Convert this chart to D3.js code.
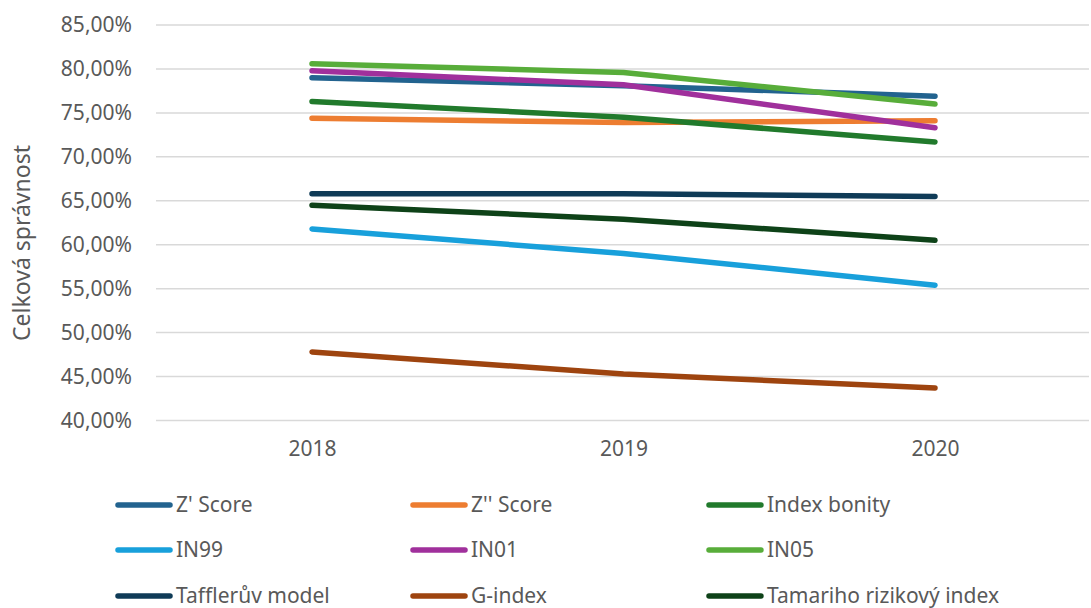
<!DOCTYPE html>
<html><head><meta charset="utf-8">
<script src="https://cdn.jsdelivr.net/npm/d3@7"></script>
<style>body{margin:0;background:#fff}svg{display:block}text{font-family:"Noto Sans",sans-serif;fill:#595959}</style>
</head><body><svg id="c" width="1091" height="608"></svg>
<script>
const years = ["2018","2019","2020"];
const seriesNames = ["Z' Score","Z'' Score","Index bonity","IN99","IN01","IN05","Tafflerův model","G-index","Tamariho rizikový index"];
const seriesColors = ["#22638f","#ed7d31","#217a2c","#18a0db","#a0309c","#58ad3a","#0f3b57","#9e440f","#0e4218"];
const zScore   = [79.0, 78.1, 76.9];
const zzScore  = [74.4, 73.9, 74.1];
const indexBonity = [76.3, 74.5, 71.7];
const in99 = [61.8, 59.0, 55.4];
const in01 = [79.8, 78.2, 73.3];
const in05 = [80.6, 79.6, 76.0];
const taffler = [65.8, 65.8, 65.5];
const gIndex = [47.8, 45.3, 43.7];
const tamari = [64.5, 62.9, 60.5];
const yTicks = [40,45,50,55,60,65,70,75,80,85];
const values = [zScore, zzScore, indexBonity, in99, in01, in05, taffler, gIndex, tamari];

const svg = d3.select("#c");
const x = d3.scalePoint().domain(years).range([312, 935]);
const y = d3.scaleLinear().domain([40, 85]).range([420.5, 25]);
const left = 156, right = 1089;

svg.append("g").selectAll("line").data(yTicks).join("line")
  .attr("x1", left).attr("x2", right)
  .attr("y1", d => y(d)).attr("y2", d => y(d))
  .attr("stroke", "#d9d9d9").attr("stroke-width", 1.5);

const fmt = d => d.toFixed(2).replace(".", ",") + "%";
const yAxis = d3.axisLeft(y).tickValues(yTicks).tickFormat(fmt).tickSize(0).tickPadding(0);
const gy = svg.append("g").attr("transform", "translate(132,0)").call(yAxis);
gy.select(".domain").remove();
gy.selectAll("text").style("font-size", "21px").style("font-family", "'Noto Sans',sans-serif").attr("fill", "#595959");

const xAxis = d3.axisBottom(x).tickSize(0).tickPadding(0);
const gx = svg.append("g").attr("transform", "translate(0,441)").call(xAxis);
gx.select(".domain").remove();
gx.selectAll("text").style("font-size", "21px").style("font-family", "'Noto Sans',sans-serif").attr("fill", "#595959");

svg.append("text").attr("transform", "translate(30,243) rotate(-90)")
  .attr("text-anchor", "middle").style("font-size", "23px").text("Celková správnost");

const line = d3.line().x((d, i) => x(years[i])).y(d => y(d));
svg.append("g").selectAll("path").data(values).join("path")
  .attr("d", d => line(d)).attr("fill", "none")
  .attr("stroke", (d, i) => seriesColors[i]).attr("stroke-width", 5.5)
  .attr("stroke-linecap", "round").attr("stroke-linejoin", "round");

const colX = [118, 413, 709];
const rowY = [505, 550, 596];
const lg = svg.append("g").selectAll("g").data(seriesNames).join("g")
  .attr("transform", (d, i) => `translate(${colX[i % 3]},${rowY[Math.floor(i / 3)]})`);
lg.append("line").attr("x1", 0).attr("x2", 52).attr("y1", 0).attr("y2", 0)
  .attr("stroke", (d, i) => seriesColors[i]).attr("stroke-width", 5.5).attr("stroke-linecap", "round");
lg.append("text").attr("x", 58).attr("dy", "0.35em").style("font-size", "21px").text(d => d);
</script></body></html>
